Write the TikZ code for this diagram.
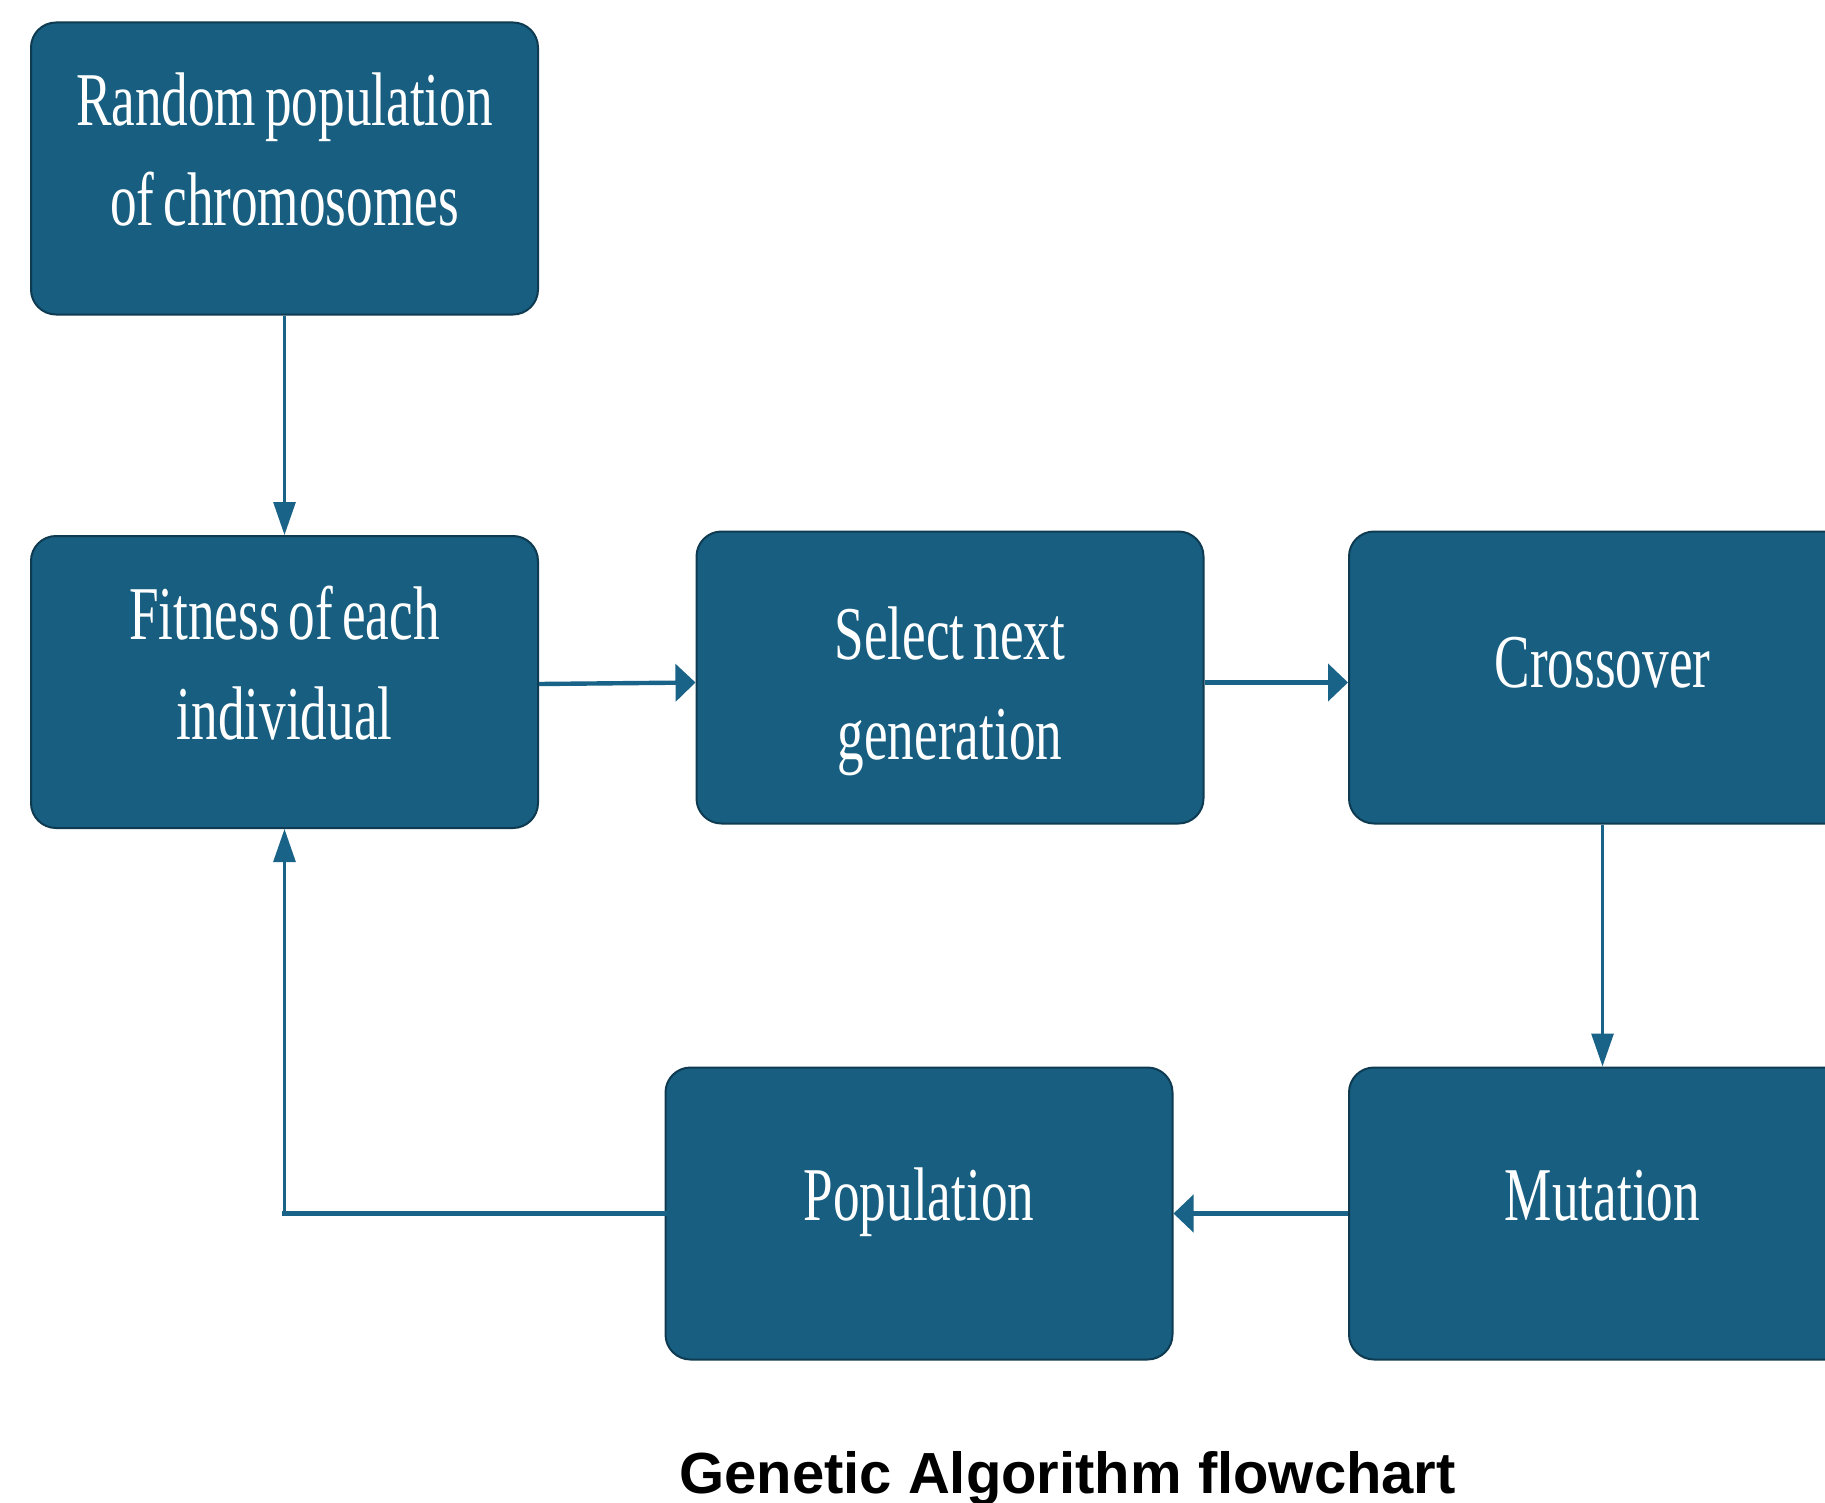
\documentclass[tikz,border=0pt]{standalone}
\usepackage{fontspec}
\newfontfamily\boxfont{Liberation Serif}[FakeStretch=0.70]
\newfontfamily\titlefont{Liberation Sans}
\usetikzlibrary{arrows.meta,positioning,calc}
\definecolor{gablue}{HTML}{175E80}
\definecolor{gaedge}{HTML}{0E3B51}
\definecolor{galine}{HTML}{1A6388}
\tikzset{
  gabox/.style={
    rectangle,
    rounded corners=12.5pt,
    fill=gablue,
    draw=gaedge, line width=1pt,
    minimum width=253.5pt,
    minimum height=146pt,
    text width=240pt,
    inner sep=0pt,
    align=center,
    text=white,
    font=\boxfont\fontsize{38}{50}\selectfont,
    execute at begin node={\spaceskip=4.5pt\relax},
    text height=30pt},
  vline/.style={draw=galine, line width=1.5pt},
  hline/.style={draw=galine, line width=2.2pt},
  vflow/.style={vline, -{Triangle[length=16.5pt,width=11pt]}},
  hflow/.style={hline, -{Triangle[length=10pt,width=18.5pt]}},
}
\begin{document}
\begin{tikzpicture}
[node distance=256.75pt]
    \useasboundingbox[fill=white] (0,0) rectangle (912.5pt,-751.5pt);

    \node [gabox, text depth=72.5pt] (rand) at (142.25pt,-84.25pt) {Random population\\ of chromosomes};
    \node [gabox, below of=rand, text depth=73pt] (fit) {Fitness of each\\ individual};
    \node [gabox, right of=fit, node distance=332.75pt, yshift=2.25pt, text depth=48.5pt] (sel) {Select next\\ generation};
    \node [gabox, right of=sel, node distance=326.25pt, text depth=20.5pt] (cross) {Crossover};
    \node [gabox, below of=cross, node distance=268pt, text depth=23.5pt] (mut) {Mutation};
    \node [gabox, left of=mut, node distance=341.75pt, text depth=23.5pt] (pop) {Population};

    \draw[vflow] (rand) -- (fit);
    \draw[hflow] ([yshift=-1pt]fit.east) -- ([yshift=-2.5pt]sel.west);
    \draw[hflow] ([yshift=-2.5pt]sel.east) -- ([yshift=-2.5pt]cross.west);
    \draw[vflow] (cross) -- (mut);
    \draw[hflow] (mut) -- (pop);
    \coordinate (turn) at (fit.south |- pop.west);
    \draw[hline, line cap=rect] (pop.west) -- (turn);
    \draw[vflow] (turn) -- (fit.south);

    \node [font=\titlefont\bfseries\fontsize{29}{34}\selectfont, anchor=base] (title) at (533.75pt,-746.5pt) {Genetic Algorithm flowchart};

\end{tikzpicture}
\end{document}
